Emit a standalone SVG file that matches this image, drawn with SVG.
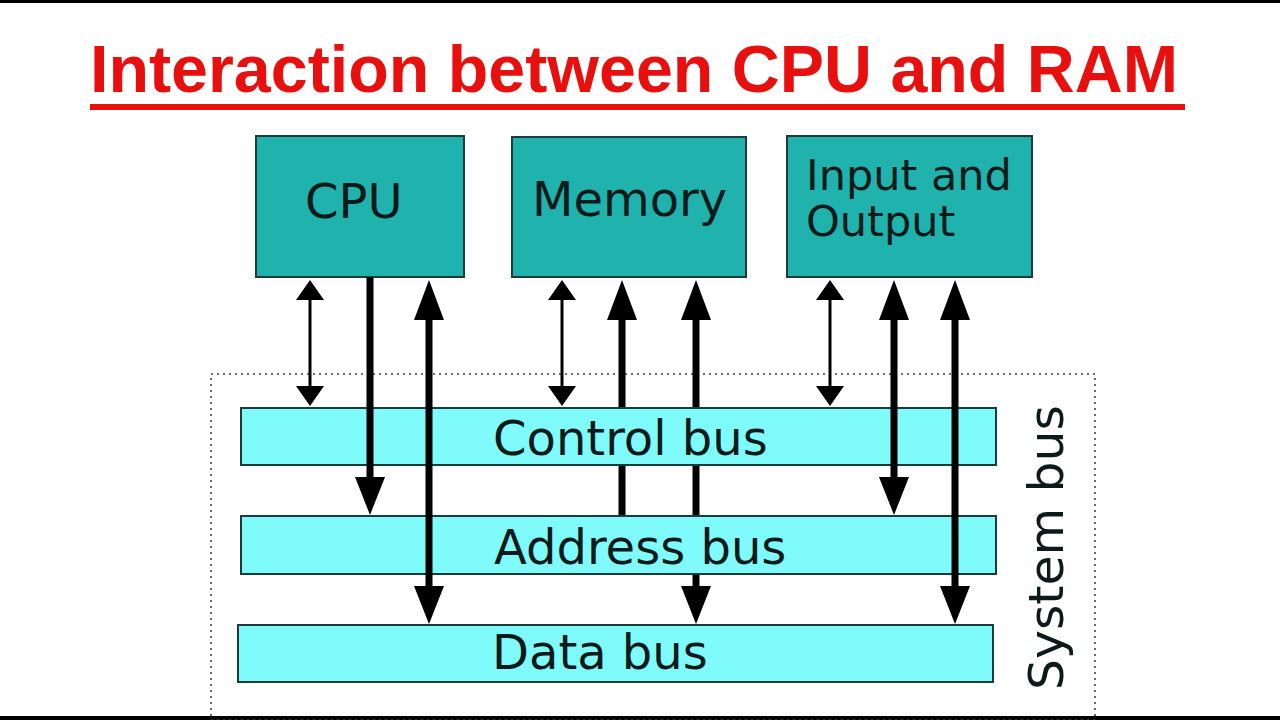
<svg xmlns="http://www.w3.org/2000/svg" xmlns:xlink="http://www.w3.org/1999/xlink" width="1280" height="720" viewBox="0 0 1280 720">
<style>
.unit{fill:#20b2ac;stroke:#1c3b3b;stroke-width:2}
.bus{fill:#80fbfb;stroke:#1c3b3b;stroke-width:2}
.lbl{font-family:"DejaVu Sans",Verdana,sans-serif;fill:#0d1a1a}
.thin{stroke:#000;stroke-width:3;fill:none}
.thick{stroke:#000;stroke-width:7;fill:none}
.head{fill:#000}
</style>
<defs>
<path id="tU" class="head" d="M0,0 L-14,20 L14,20 Z"/>
<path id="tD" class="head" d="M0,0 L-14,-20 L14,-20 Z"/>
<path id="kU" class="head" d="M0,0 L-15,40 L15,40 Z"/>
<path id="kD" class="head" d="M0,0 L-15,-38 L15,-38 Z"/>
</defs>
<rect width="1280" height="720" fill="#fff"/>
<rect x="0" y="0" width="1280" height="3" fill="#000"/>
<rect x="0" y="716" width="1280" height="4" fill="#000"/>

<g id="title">
<text x="90" y="92" font-family="'Liberation Sans Narrow','Liberation Sans',Arial,sans-serif" font-weight="bold" font-size="66" fill="#e8100f" textLength="1088" lengthAdjust="spacingAndGlyphs">Interaction between CPU and RAM</text>
<rect x="90" y="104" width="1095" height="6" fill="#e8100f"/>
</g>

<g id="system-bus">
<rect x="211" y="374" width="884" height="346" fill="none" stroke="#444" stroke-width="1.6" stroke-dasharray="2 4"/>
<text class="lbl" transform="translate(1063,690) rotate(-90)" font-size="48" textLength="285" lengthAdjust="spacingAndGlyphs">System bus</text>
</g>

<g id="connectors-under">
<line class="thick" x1="622" y1="318" x2="622" y2="516"/>
<use xlink:href="#kU" x="622" y="280"/>
<line class="thick" x1="696" y1="318" x2="696" y2="588"/>
<use xlink:href="#kU" x="696" y="280"/>
<use xlink:href="#kD" x="696" y="624"/>
</g>

<g id="control-bus">
<rect class="bus" x="241" y="408" width="755" height="57"/>
<text class="lbl" x="493" y="455" font-size="48">Control bus</text>
</g>
<g id="address-bus">
<rect class="bus" x="241" y="516" width="755" height="58"/>
<text class="lbl" x="494" y="564" font-size="48">Address bus</text>
</g>
<g id="data-bus">
<rect class="bus" x="238" y="625" width="755" height="57"/>
<text class="lbl" x="492" y="669" font-size="48">Data bus</text>
</g>

<g id="cpu">
<rect class="unit" x="256" y="136" width="208" height="141"/>
<text class="lbl" x="305" y="218" font-size="48">CPU</text>
</g>
<g id="memory">
<rect class="unit" x="512" y="137" width="234" height="140"/>
<text class="lbl" x="532" y="216" font-size="48">Memory</text>
</g>
<g id="io">
<rect class="unit" x="787" y="136" width="245" height="141"/>
<text class="lbl" x="806" y="190" font-size="43">Input and</text>
<text class="lbl" x="806" y="236" font-size="43">Output</text>
</g>

<g id="connectors">
<line class="thin" x1="310" y1="298" x2="310" y2="388"/>
<use xlink:href="#tU" x="310" y="280"/>
<use xlink:href="#tD" x="310" y="406"/>
<line class="thick" x1="370" y1="277" x2="370" y2="479"/>
<use xlink:href="#kD" x="370" y="515"/>
<line class="thick" x1="429" y1="318" x2="429" y2="588"/>
<use xlink:href="#kU" x="429" y="280"/>
<use xlink:href="#kD" x="429" y="624"/>

<line class="thin" x1="562" y1="298" x2="562" y2="388"/>
<use xlink:href="#tU" x="562" y="280"/>
<use xlink:href="#tD" x="562" y="406"/>

<line class="thin" x1="830" y1="298" x2="830" y2="388"/>
<use xlink:href="#tU" x="830" y="280"/>
<use xlink:href="#tD" x="830" y="406"/>
<line class="thick" x1="894" y1="318" x2="894" y2="479"/>
<use xlink:href="#kU" x="894" y="280"/>
<use xlink:href="#kD" x="894" y="515"/>
<line class="thick" x1="955" y1="318" x2="955" y2="588"/>
<use xlink:href="#kU" x="955" y="280"/>
<use xlink:href="#kD" x="955" y="624"/>
</g>
</svg>
